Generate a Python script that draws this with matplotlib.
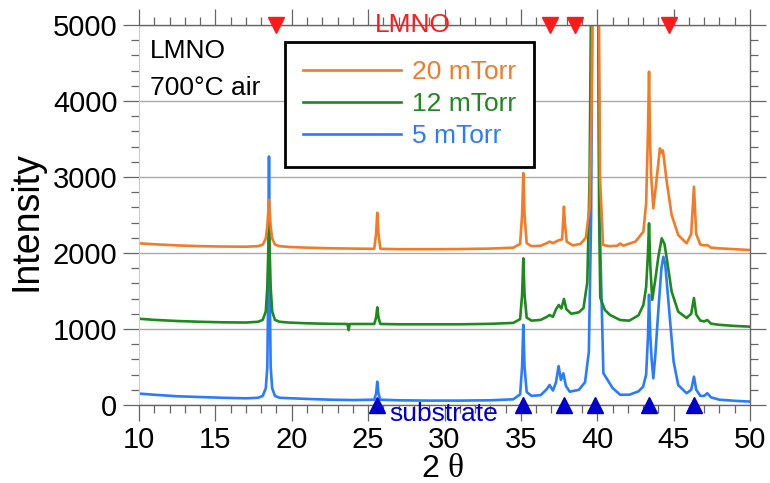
import matplotlib
matplotlib.use("Agg")
import matplotlib.pyplot as plt
from matplotlib.ticker import MultipleLocator

plt.rcParams['font.family'] = ['Liberation Sans', 'DejaVu Sans']

# 5 mTorr scan
tt_5 = [10.0, 11.0, 12.5, 14.0, 15.5, 17.0, 17.8, 18.1, 18.3, 18.4, 18.46, 18.51, 18.56,
        18.62, 18.72, 18.9, 19.2, 19.8, 21.0, 22.5, 24.0, 25.4, 25.52, 25.6, 25.68, 25.8,
        27.0, 29.0, 31.0, 33.0, 34.5, 34.95, 35.08, 35.16, 35.24, 35.38, 35.7, 36.3, 36.7,
        36.88, 37.1, 37.3, 37.47, 37.62, 37.78, 37.95, 38.2, 38.8, 39.2, 39.45, 39.6, 39.7,
        39.88, 40.05, 40.15, 40.4, 41.0, 41.5, 42.1, 42.7, 43.0, 43.2, 43.32, 43.39, 43.47,
        43.56, 43.67, 43.8, 44.0, 44.2, 44.33, 44.45, 44.55, 44.77, 45.0, 45.3, 45.85, 46.15,
        46.33, 46.48, 46.75, 47.0, 47.2, 47.45, 48.0, 49.0, 50.0]
int_5 = [150, 135, 115, 105, 95, 88, 95, 120, 220, 500, 1500, 3270, 1500,
         500, 220, 120, 95, 90, 80, 70, 65, 70, 150, 307, 150, 70,
         62, 58, 58, 62, 75, 140, 500, 1055, 500, 170, 120, 130, 210,
         263, 190, 300, 513, 330, 417, 250, 175, 200, 300, 700, 2500, 6000,
         8000, 6000, 2500, 420, 224, 135, 135, 180, 240, 400, 900, 1450, 920,
         600, 351, 650, 1250, 1800, 1950, 1850, 1620, 1100, 570, 263, 155, 200,
         373, 200, 120, 120, 155, 100, 70, 55, 45]

# 12 mTorr scan
tt_12 = [10.0, 11.0, 12.5, 14.0, 15.5, 17.0, 17.8, 18.1, 18.3, 18.4, 18.46, 18.51, 18.56,
         18.62, 18.72, 18.9, 19.2, 19.8, 21.0, 22.5, 23.65, 23.72, 23.8, 25.4, 25.52, 25.6,
         25.68, 25.8, 27.0, 29.0, 31.0, 33.0, 34.5, 34.95, 35.08, 35.16, 35.24, 35.38, 35.7,
         36.3, 36.7, 36.88, 37.1, 37.3, 37.48, 37.65, 37.82, 37.98, 38.3, 38.8, 39.1, 39.35,
         39.5, 39.62, 39.85, 40.05, 40.12, 40.2, 40.5, 40.84, 41.5, 42.1, 42.7, 43.02, 43.2,
         43.32, 43.39, 43.47, 43.6, 43.8, 44.0, 44.22, 44.4, 44.55, 44.87, 45.3, 45.85, 46.15,
         46.33, 46.48, 46.75, 47.0, 47.2, 47.45, 48.0, 49.0, 50.0]
int_12 = [1135, 1120, 1105, 1095, 1088, 1085, 1095, 1120, 1230, 1550, 2000, 2400, 2000,
          1550, 1230, 1120, 1095, 1085, 1075, 1068, 1066, 985, 1066, 1066, 1150, 1285,
          1150, 1066, 1062, 1062, 1062, 1068, 1080, 1130, 1450, 1930, 1450, 1150, 1110,
          1120, 1160, 1184, 1160, 1260, 1316, 1270, 1395, 1260, 1200, 1220, 1276, 1620,
          3000, 6000, 8000, 6000, 2500, 1410, 1250, 1184, 1118, 1110, 1180, 1316, 1550,
          2000, 2390, 1840, 1382, 1650, 1950, 2193, 2120, 1930, 1491, 1228, 1145, 1200,
          1408, 1190, 1110, 1100, 1118, 1070, 1055, 1040, 1031]

# 20 mTorr scan
tt_20 = [10.0, 11.0, 12.5, 14.0, 15.5, 17.0, 17.8, 18.1, 18.3, 18.4, 18.46, 18.51, 18.56,
         18.62, 18.72, 18.9, 19.2, 19.8, 21.0, 22.5, 24.0, 25.4, 25.52, 25.6, 25.68, 25.8,
         27.0, 29.0, 31.0, 33.0, 34.5, 34.95, 35.08, 35.16, 35.24, 35.38, 35.7, 36.3, 36.7,
         36.88, 37.1, 37.5, 37.7, 37.76, 37.82, 37.88, 38.0, 38.4, 38.9, 39.25, 39.5, 39.62,
         39.74, 39.9, 40.07, 40.18, 40.38, 40.8, 41.3, 41.5, 41.7, 42.5, 43.02, 43.2, 43.32,
         43.39, 43.46, 43.52, 43.67, 43.85, 44.1, 44.2, 44.3, 44.55, 44.87, 45.3, 45.85, 46.15,
         46.33, 46.48, 46.75, 47.0, 47.2, 47.45, 48.0, 49.0, 50.0]
int_20 = [2127, 2115, 2100, 2090, 2085, 2083, 2090, 2110, 2190, 2350, 2540, 2700, 2540,
          2350, 2190, 2110, 2090, 2080, 2070, 2062, 2058, 2055, 2250, 2530, 2250, 2055,
          2050, 2050, 2052, 2058, 2070, 2120, 2500, 3050, 2500, 2130, 2090, 2095, 2130,
          2150, 2130, 2170, 2180, 2400, 2610, 2400, 2150, 2100, 2120, 2200, 2600, 3800,
          6500, 8000, 6500, 3000, 2105, 2090, 2095, 2125, 2097, 2150, 2281, 2650, 3600,
          4386, 3465, 3050, 2588, 2900, 3377, 3320, 3350, 2938, 2500, 2237, 2127, 2250,
          2873, 2250, 2110, 2100, 2105, 2070, 2061, 2050, 2039]

labels = ['5 mTorr', '12 mTorr', '20 mTorr']
colors = ['#2b7bff', '#1e8a1e', '#f47a26']

# reflection positions
lmno_peaks = [19.0, 36.9, 38.57, 44.7]
substrate_peaks = [25.6, 35.16, 37.85, 39.85, 43.39, 46.33]

fig = plt.figure(figsize=(7.7, 4.83), dpi=100)
ax = fig.add_axes([139 / 770, 1 - 405 / 483, 611 / 770, 380 / 483])

handles = []
for tt, inten, lab, col in zip([tt_5, tt_12, tt_20], [int_5, int_12, int_20], labels, colors):
    h, = ax.plot(tt, inten, color=col, lw=1.9, label=lab)
    handles.append(h)

ax.set_xlim(10, 50)
ax.set_ylim(0, 5000)
ax.xaxis.set_major_locator(MultipleLocator(5))
ax.xaxis.set_minor_locator(MultipleLocator(1))
ax.yaxis.set_major_locator(MultipleLocator(1000))
ax.yaxis.set_minor_locator(MultipleLocator(200))
ax.grid(axis='y', which='major', color='#aaaaaa', lw=1)
ax.set_axisbelow(True)

ax.tick_params(which='both', direction='out', top=True, right=True,
               color='#666666', width=0.9, labelsize=21, labelcolor='black')
ax.tick_params(which='major', length=11.5)
ax.tick_params(which='minor', length=5.5)
ax.tick_params(axis='x', pad=3.5)
ax.tick_params(axis='y', pad=4)
for side in ['top', 'bottom', 'right']:
    ax.spines[side].set_color('#666666')
    ax.spines[side].set_linewidth(1)
ax.spines['left'].set_color('#cccccc')
ax.spines['left'].set_linewidth(0.8)

# reflection markers
ax.plot(lmno_peaks, [5000] * len(lmno_peaks), 'v', color='#ff1a1a', ms=11, clip_on=False, zorder=5)
ax.plot(substrate_peaks, [0] * len(substrate_peaks), '^', color='#0000cc', ms=11, clip_on=False, zorder=5)
ax.text(27.9, 5000, 'LMNO', color='#ff1a1a', fontsize=19, ha='center', va='center', zorder=6)
ax.text(26.4, -210, 'substrate', color='#0000cc', fontsize=19, ha='left', va='baseline', clip_on=False)

ax.text(10.72, 4566, 'LMNO', fontsize=19, ha='left', va='baseline')
ax.text(10.72, 4079, '700\u00b0C air', fontsize=19, ha='left', va='baseline')

leg = ax.legend(handles[::-1], labels[::-1], loc='upper left', bbox_to_anchor=(146 / 611, 363 / 380),
                borderaxespad=0, fontsize=19, handlelength=3.7, handletextpad=0.4,
                borderpad=0.7, labelspacing=0.3, fancybox=False, framealpha=1,
                edgecolor='black', labelcolor='linecolor')
leg.get_frame().set_linewidth(2)
leg.set_zorder(10)

fig.text(27 / 770, 1 - 221 / 483, 'Intensity', rotation=90, fontsize=27, ha='center', va='center')
fig.text(421 / 770, 1 - 477 / 483, '2', fontsize=23, ha='left', va='baseline')
fig.text(447 / 770, 1 - 477 / 483, '\u03b8', fontsize=24, family=['Liberation Serif', 'DejaVu Serif'],
         ha='left', va='baseline')

fig.savefig('out.png', dpi=100)
